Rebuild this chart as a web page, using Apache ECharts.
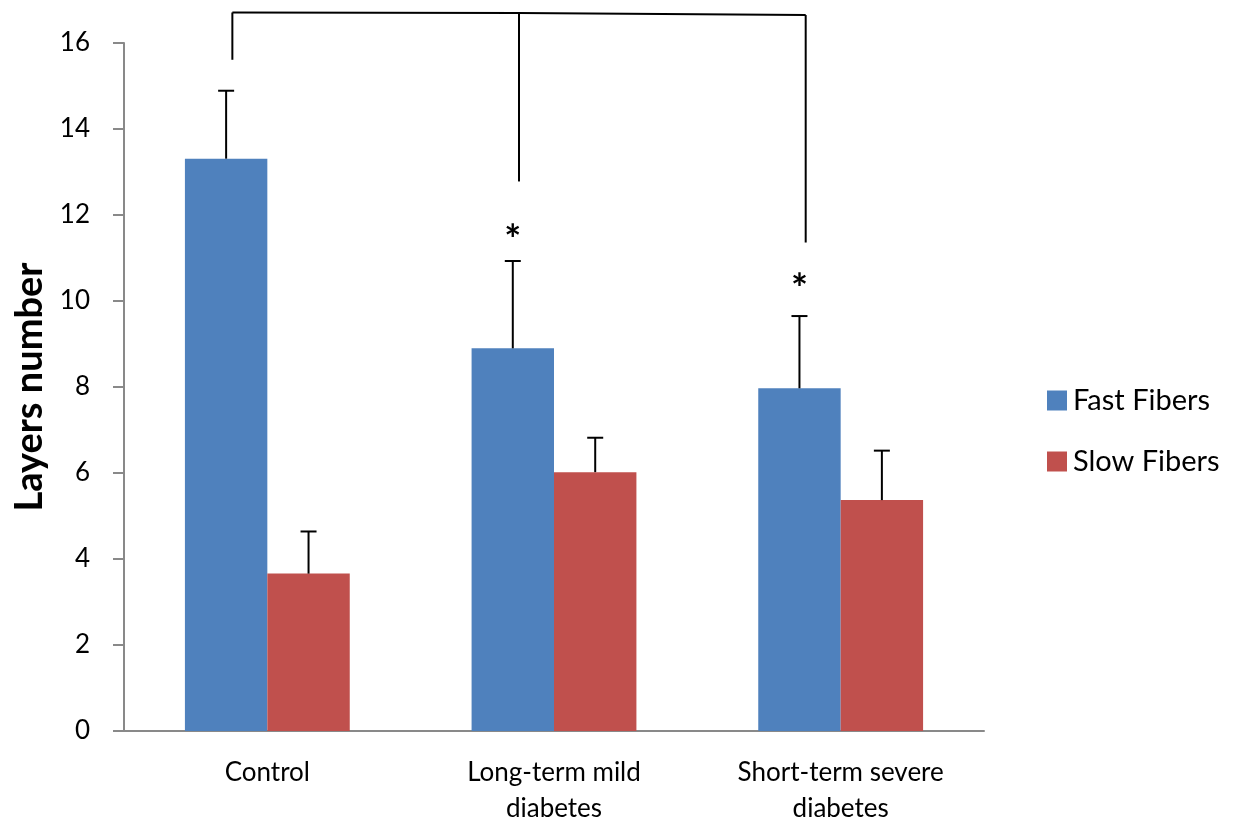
<!DOCTYPE html>
<html>
<head>
<meta charset="utf-8">
<script src="https://cdn.jsdelivr.net/npm/echarts@6/dist/echarts.min.js"></script>
<style>html,body{margin:0;padding:0;background:#fff}#c{width:1237px;height:827px}</style>
</head>
<body>
<div id="c"></div>
<script>
var categories = ['Control', 'Long-term mild\ndiabetes', 'Short-term severe\ndiabetes'];
var fastValues = [13.31, 8.90, 7.97];
var fastErrors = [1.58, 2.03, 1.68];
var slowValues = [3.66, 6.02, 5.37];
var slowErrors = [0.98, 0.80, 1.15];
var yTicks = [0, 2, 4, 6, 8, 10, 12, 14, 16];
// bracket: [categoryIndex, value at bottom, value at top]
var bracketLegs = [[0, 15.61, 16.71], [1, 12.78, 16.70], [2, 11.36, 16.65]];
// asterisks: [categoryIndex, value]
var asterisks = [[1, 11.40], [2, 10.26]];

var FONT = 'Lato, "Open Sans", sans-serif';
var GAP = 0.425;
var BRACKET_OFF = -0.122;

function errSeries(name, vals, errs, side) {
  return {
    type: 'custom', name: name + ' err', silent: true, clip: false, z: 5,
    data: vals.map(function (v, i) { return [i, v, v + errs[i]]; }),
    renderItem: function (params, api) {
      var band = api.size([1, 0])[0];
      var bw = band * (1 - GAP) / 2;
      var p0 = api.coord([api.value(0), api.value(1)]);
      var p1 = api.coord([api.value(0), api.value(2)]);
      var x = p0[0] + side * bw / 2;
      var cap = 8;
      return {
        type: 'group', children: [
          { type: 'line', shape: { x1: x, y1: p0[1], x2: x, y2: p1[1] }, style: { stroke: '#000', lineWidth: 2 } },
          { type: 'line', shape: { x1: x - cap, y1: p1[1], x2: x + cap, y2: p1[1] }, style: { stroke: '#000', lineWidth: 2 } }
        ]
      };
    }
  };
}

var option = {
  animation: false,
  backgroundColor: '#fff',
  grid: { left: 124, right: 253, top: 43, bottom: 94 },
  legend: {
    orient: 'vertical', left: 1042, top: 381,
    itemWidth: 20, itemHeight: 20, itemGap: 32,
    icon: 'rect',
    textStyle: { fontFamily: FONT, fontSize: 29, color: '#000', padding: [0, 0, 0, 1] },
    data: ['Fast Fibers', 'Slow Fibers']
  },
  xAxis: {
    type: 'category', data: categories,
    axisLine: { lineStyle: { color: '#898989', width: 2 } },
    axisTick: { show: false },
    axisLabel: { fontFamily: FONT, fontSize: 26, color: '#000', margin: 24, lineHeight: 36 }
  },
  yAxis: {
    type: 'value', min: yTicks[0], max: yTicks[yTicks.length - 1], interval: 2,
    name: 'Layers number', nameLocation: 'middle', nameGap: 75,
    nameTextStyle: { fontFamily: FONT, fontSize: 38, fontWeight: 'bold', color: '#000' },
    axisLine: { show: true, lineStyle: { color: '#898989', width: 2 } },
    axisTick: { show: true, length: 11, lineStyle: { color: '#898989', width: 2 } },
    splitLine: { show: false },
    axisLabel: { fontFamily: FONT, fontSize: 26, color: '#000', margin: 34 }
  },
  series: [
    { type: 'bar', name: 'Fast Fibers', data: fastValues, barGap: '0%', barCategoryGap: (GAP * 100) + '%',
      itemStyle: { color: '#4F81BD' } },
    { type: 'bar', name: 'Slow Fibers', data: slowValues,
      itemStyle: { color: '#C0504D' } },
    errSeries('Fast Fibers', fastValues, fastErrors, -1),
    errSeries('Slow Fibers', slowValues, slowErrors, 1),
    {
      type: 'custom', name: 'bracket', silent: true, clip: false, z: 6,
      data: [0],
      renderItem: function (params, api) {
        var band = api.size([1, 0])[0];
        var children = [];
        var tops = [];
        bracketLegs.forEach(function (b) {
          var c0 = api.coord([b[0], b[1]]);
          var c1 = api.coord([b[0], b[2]]);
          var x = c0[0] + BRACKET_OFF * band;
          children.push({ type: 'line', shape: { x1: x, y1: c0[1], x2: x, y2: c1[1] }, style: { stroke: '#000', lineWidth: 2 } });
          tops.push([x, c1[1]]);
        });
        children.push({ type: 'polyline', shape: { points: tops }, style: { stroke: '#000', lineWidth: 2, fill: null } });
        asterisks.forEach(function (a) {
          var c = api.coord([a[0], a[1]]);
          var bw = band * (1 - GAP) / 2;
          children.push({ type: 'text', x: c[0] - bw / 2, y: c[1], style: { text: '*', fontFamily: FONT, fontSize: 40, fontWeight: 'bold', fill: '#000', align: 'center', verticalAlign: 'middle' } });
        });
        return { type: 'group', children: children };
      }
    }
  ]
};
var chart = echarts.init(document.getElementById('c'), null, { renderer: 'canvas' });
chart.setOption(option);
</script>
</body>
</html>
